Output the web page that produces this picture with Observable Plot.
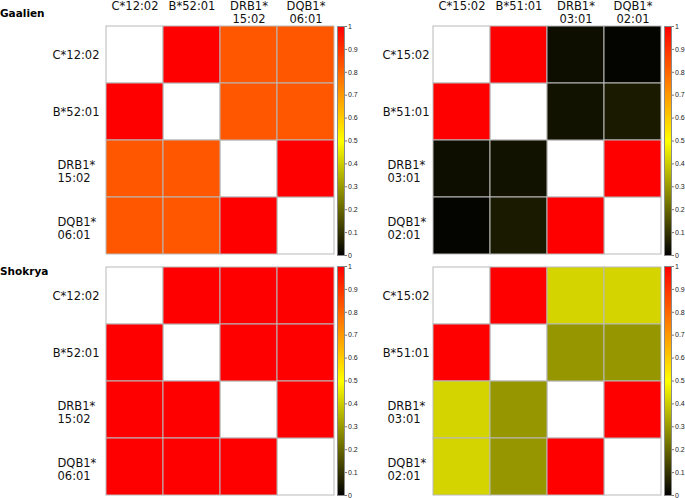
<!DOCTYPE html>
<html><head><meta charset="utf-8">
<script src="https://cdn.jsdelivr.net/npm/d3@7"></script>
<script src="https://cdn.jsdelivr.net/npm/@observablehq/plot@0.6"></script>
<style>
body{margin:0;background:#fff;}
#root{position:relative;width:685px;height:498px;overflow:hidden;font-family:"DejaVu Sans",Verdana,sans-serif;background:#fff;}
.abs{position:absolute;}
.group{position:absolute;font-weight:bold;font-size:10.5px;line-height:1;color:#000;}
</style></head><body><div id="root"></div>
<script>
// Alleles (row/column labels) for the two haplotypes
const allelesLeft = ["C*12:02", "B*52:01", "DRB1*\n15:02", "DQB1*\n06:01"];
const allelesRight = ["C*15:02", "B*51:01", "DRB1*\n03:01", "DQB1*\n02:01"];
const groups = ["Gaalien", "Shokrya"];
// pairwise values in order: (0,1),(0,2),(0,3),(1,2),(1,3),(2,3)
const gaalienLeft = [1.0, 0.83, 0.83, 0.83, 0.83, 1.0];
const gaalienRight = [1.0, 0.025, 0.01, 0.035, 0.05, 1.0];
const shokryaLeft = [1.0, 1.0, 1.0, 1.0, 1.0, 1.0];
const shokryaRight = [1.0, 0.415, 0.415, 0.295, 0.295, 1.0];
// colour scale
const colorDomain = [0, 0.5, 1];
const colorRange = ["#000000", "#ffff00", "#ff0000"];
const colorTicks = [0, 0.1, 0.2, 0.3, 0.4, 0.5, 0.6, 0.7, 0.8, 0.9, 1];

const pairs = [[0,1],[0,2],[0,3],[1,2],[1,3],[2,3]];
const root = document.getElementById("root");
let gid = 0;

function panel(labels, values, left, top, showCols, gap, multiOffset) {
  const cells = [];
  pairs.forEach(([i, j], k) => {
    cells.push({row: labels[i], col: labels[j], v: values[k]});
    cells.push({row: labels[j], col: labels[i], v: values[k]});
  });
  const diag = labels.map(l => ({row: l, col: l}));
  const mTop = showCols ? 25 : 1;
  const grid = 229;
  const mLeft = 105;
  const single = labels.filter(l => !l.includes("\n"));
  const multi = labels.filter(l => l.includes("\n"));
  const marks = [
    Plot.cell(diag, {x: "col", y: "row", fill: "white", stroke: "#b9b9b9", inset: 0}),
    Plot.cell(cells, {x: "col", y: "row", fill: "v", stroke: "#b9b9b9", inset: 0}),
    Plot.text(single, {y: d => d, text: d => d, frameAnchor: "left", textAnchor: "end", dx: -gap, fontSize: 11.5, fill: "#111"}),
    Plot.text(multi, {y: d => d, text: d => d, frameAnchor: "left", textAnchor: "start", dx: -multiOffset, dy: 2, lineHeight: 1.13, fontSize: 11.5, fill: "#111"})
  ];
  if (showCols) {
    marks.push(Plot.text(labels, {x: d => d, text: d => d, frameAnchor: "top", lineAnchor: "top", dy: -25, lineHeight: 1.13, fontSize: 11.5, fill: "#111"}));
  }
  const chart = Plot.plot({
    width: mLeft + grid + 1,
    height: mTop + grid + 1,
    marginLeft: mLeft, marginRight: 1, marginTop: mTop, marginBottom: 1,
    style: {background: "none", fontFamily: "DejaVu Sans, Verdana, sans-serif"},
    x: {domain: labels, axis: null, padding: 0},
    y: {domain: labels, axis: null, padding: 0},
    color: {type: "linear", domain: colorDomain, range: colorRange, interpolate: "rgb"},
    marks
  });
  chart.classList.add("abs");
  chart.style.left = left + "px";
  chart.style.top = (top - mTop) + "px";
  root.appendChild(chart);
}

function colorbar(barLeft, barTop) {
  const id = "cbgrad" + (gid++);
  const mL = 7, mT = 6, h = 229;
  const chart = Plot.plot({
    width: mL + 7 + 22,
    height: mT + h + 6,
    marginLeft: mL, marginRight: 22, marginTop: mT, marginBottom: 6,
    style: {background: "none", fontFamily: "Liberation Sans, Arial, sans-serif"},
    y: {domain: [0, 1]},
    marks: [
      Plot.frame({fill: `url(#${id})`, stroke: "#8a8a8a"}),
      Plot.axisY(colorTicks, {anchor: "right", tickSize: 2, tickPadding: 1.5, fontSize: 7, tickFormat: d3.format("~g"), stroke: "#777", fill: "#222", label: null})
    ]
  });
  const svg = d3.select(chart);
  const grad = svg.insert("defs", ":first-child").append("linearGradient")
    .attr("id", id).attr("x1", 0).attr("y1", 1).attr("x2", 0).attr("y2", 0);
  colorDomain.forEach((d, i) => grad.append("stop").attr("offset", d).attr("stop-color", colorRange[i]));
  chart.classList.add("abs");
  chart.style.left = (barLeft - mL) + "px";
  chart.style.top = (barTop - mT) + "px";
  root.appendChild(chart);
}

panel(allelesLeft, gaalienLeft, 0, 25, true, 6, 48);
panel(allelesRight, gaalienRight, 327, 25, true, 3, 45);
panel(allelesLeft, shokryaLeft, 0, 266, false, 6, 48);
panel(allelesRight, shokryaRight, 327, 266, false, 3, 45);
colorbar(337, 26);
colorbar(664, 26);
colorbar(337, 266);
colorbar(664, 266);

[[groups[0], 8], [groups[1], 265.5]].forEach(([g, t]) => {
  const d = document.createElement("div");
  d.className = "group";
  d.textContent = g;
  d.style.left = "0px";
  d.style.top = t + "px";
  root.appendChild(d);
});
</script></body></html>
